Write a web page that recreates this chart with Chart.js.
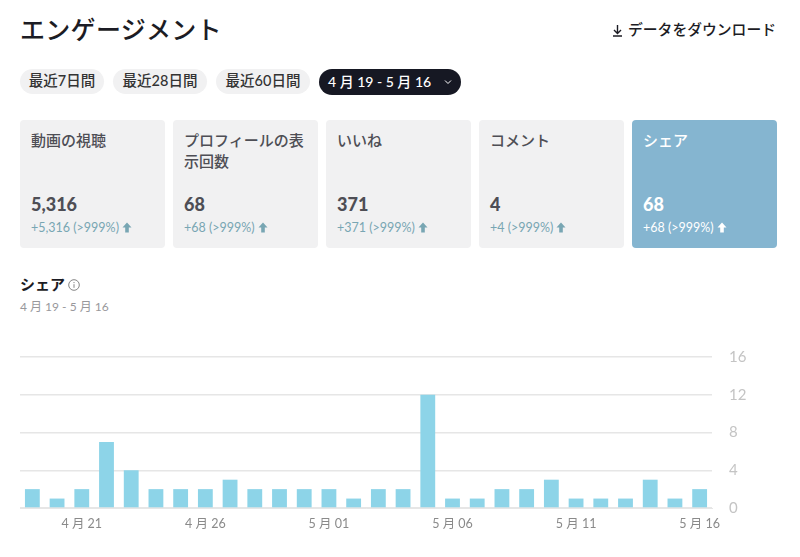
<!DOCTYPE html>
<html lang="ja">
<head>
<meta charset="utf-8">
<title>エンゲージメント</title>
<script src="https://cdn.jsdelivr.net/npm/chart.js@4"></script>
<style>
  html, body { margin: 0; padding: 0; background: #fff; }
  body { width: 800px; height: 557px; position: relative; overflow: hidden;
    font-family: Lato, "Noto Sans CJK JP", sans-serif; color: #1c1c24; }
  h1 { position: absolute; left: 20px; top: 10px; margin: 0; font-size: 25px; line-height: 38px; font-weight: 500; letter-spacing: .3px; }
  .download { position: absolute; right: 24px; top: 18px; font-size: 14.8px; line-height: 22px; font-weight: 500; }
  .download svg { position: absolute; left: -17px; top: 6px; }
  .pill { position: absolute; top: 69px; height: 25px; line-height: 24px; text-align: center; border-radius: 13px;
    background: #f1f1f2; color: #333; font-size: 14.5px; font-weight: 500; }
  .pill.active { background: #161823; color: #fff; left: 319px; width: 142px; top: 69px; height: 26px; line-height: 26px; text-align: left; text-indent: 9px; font-size: 14px; }
  .pill.active svg { position: absolute; left: 124px; top: 8px; }
  .card { position: absolute; top: 120px; width: 145px; height: 128px; border-radius: 4px; background: #f1f1f2; color: #4e4e55; }
  .card .name { position: absolute; left: 11px; top: 10px; width: 126px; font-size: 15px; line-height: 21px; font-weight: 500; }
  .card .val { position: absolute; left: 11px; top: 72px; font-size: 18px; line-height: 24px; font-weight: 900; }
  .card .delta { position: absolute; left: 11px; top: 99px; font-size: 12.5px; line-height: 18px; color: #78a6b3; white-space: nowrap; }
  .card .delta svg { margin-left: 3px; vertical-align: -1px; }
  .card.active { background: #85b5d0; color: #fff; }
  .card.active .delta { color: #fff; }
  .sec { position: absolute; left: 20px; top: 273px; font-size: 15px; line-height: 22px; font-weight: 700; }
  .sec svg { position: absolute; left: 48px; top: 6px; }
  .range { position: absolute; left: 20px; top: 298px; font-size: 12px; line-height: 18px; color: #98989c; }
  #wrap { position: absolute; left: 0; top: 340px; width: 800px; height: 217px; }
</style>
</head>
<body>
<h1>エンゲージメント</h1>
<div class="download">
  <svg width="13" height="13" viewBox="0 0 13 13" fill="none" stroke="#1c1c24" stroke-width="1.4"><path d="M6.5 1v8M3 6l3.5 3.5L10 6M2 12h9"/></svg>
  データをダウンロード
</div>
<div class="pill" style="left:20px;width:84px">最近7日間</div>
<div class="pill" style="left:113px;width:94px">最近28日間</div>
<div class="pill" style="left:216px;width:94px">最近60日間</div>
<div class="pill active">4 月 19 - 5 月 16
  <svg width="10" height="10" viewBox="0 0 10 10" fill="none" stroke="#fff" stroke-width="1"><path d="M2 3.5l3 3 3-3"/></svg>
</div>
<div id="cards"></div>
<div class="sec">シェア
  <svg width="12" height="12" viewBox="0 0 12 12" fill="none" stroke="#777" stroke-width=".9"><circle cx="6" cy="6" r="5.3"/><path d="M6 5.2v3.6M6 3v1.1"/></svg>
</div>
<div class="range">4 月 19 - 5 月 16</div>
<div id="wrap"><canvas id="chart-shares"></canvas></div>

<script>
const CARD_NAMES = ['動画の視聴', 'プロフィールの表示回数', 'いいね', 'コメント', 'シェア'];
const CARD_VALUES = ['5,316', '68', '371', '4', '68'];
const CARD_DELTAS = ['+5,316 (>999%)', '+68 (>999%)', '+371 (>999%)', '+4 (>999%)', '+68 (>999%)'];
const CARD_LEFT = [20, 173, 326, 479, 632];

const DAYS = [
  '4 月 19', '4 月 20', '4 月 21', '4 月 22', '4 月 23', '4 月 24', '4 月 25', '4 月 26', '4 月 27', '4 月 28', '4 月 29', '4 月 30',
  '5 月 01', '5 月 02', '5 月 03', '5 月 04', '5 月 05', '5 月 06', '5 月 07', '5 月 08', '5 月 09', '5 月 10', '5 月 11', '5 月 12', '5 月 13', '5 月 14', '5 月 15', '5 月 16',
];
const SHARES = [2, 1, 2, 7, 4, 2, 2, 2, 3, 2, 2, 2, 2, 1, 2, 2, 12, 1, 1, 2, 2, 3, 1, 1, 1, 3, 1, 2];
const Y_TICKS = [0, 4, 8, 12, 16];

const FONT = 'Lato, "Noto Sans CJK JP", sans-serif';
const ARROW = '<svg width="10" height="11" viewBox="0 0 10 11" fill="currentColor"><path d="M5 0.5L9.5 5.5H6.8v5H3.2v-5H0.5z"/></svg>';

function renderCards() {
  const box = document.getElementById('cards');
  CARD_NAMES.forEach((name, i) => {
    const el = document.createElement('div');
    el.className = 'card' + (i === 4 ? ' active' : '');
    el.style.left = CARD_LEFT[i] + 'px';
    el.innerHTML = `<div class="name">${name}</div><div class="val">${CARD_VALUES[i]}</div>` +
      `<div class="delta"><span></span>${ARROW}</div>`;
    el.querySelector('.delta span').textContent = CARD_DELTAS[i];
    box.appendChild(el);
  });
}

function renderChart() {
  const ctx = document.getElementById('chart-shares').getContext('2d');
  new Chart(ctx, {
    type: 'bar',
    data: {
      labels: DAYS,
      datasets: [
        {
          label: 'シェア',
          data: SHARES,
          backgroundColor: '#8dd4e8',
          barPercentage: 0.6,
          categoryPercentage: 1,
        },
      ],
    },
    options: {
      responsive: true,
      maintainAspectRatio: false,
      animation: false,
      layout: { padding: { left: 20, top: 17 } },
      plugins: { legend: { display: false }, tooltip: { enabled: false } },
      scales: {
        x: {
          grid: { display: false },
          border: { color: '#e6e6e6', width: 1 },
          ticks: {
            autoSkip: false,
            maxRotation: 0,
            color: '#8a8a8a',
            padding: 0,
            font: { family: FONT, size: 12.5 },
            callback(value, index) {
              return (index - 2) % 5 === 0 ? DAYS[index] : '';
            },
          },
          afterFit(scale) { scale.height = 49; },
        },
        y: {
          position: 'right',
          min: 0,
          max: 16,
          afterBuildTicks(scale) { scale.ticks = Y_TICKS.map((value) => ({ value })); },
          grid: { color: '#e6e6e6', lineWidth: 1.4, drawTicks: false },
          border: { display: false },
          ticks: {
            color: '#c4c4c4',
            padding: 17,
            crossAlign: 'near',
            font: { family: FONT, size: 15 },
          },
          afterFit(scale) {
            scale.width = 88;
            scale.paddingTop = 0;
            scale.paddingBottom = 0;
          },
        },
      },
    },
  });
}

renderCards();
renderChart();
</script>
</body>
</html>
